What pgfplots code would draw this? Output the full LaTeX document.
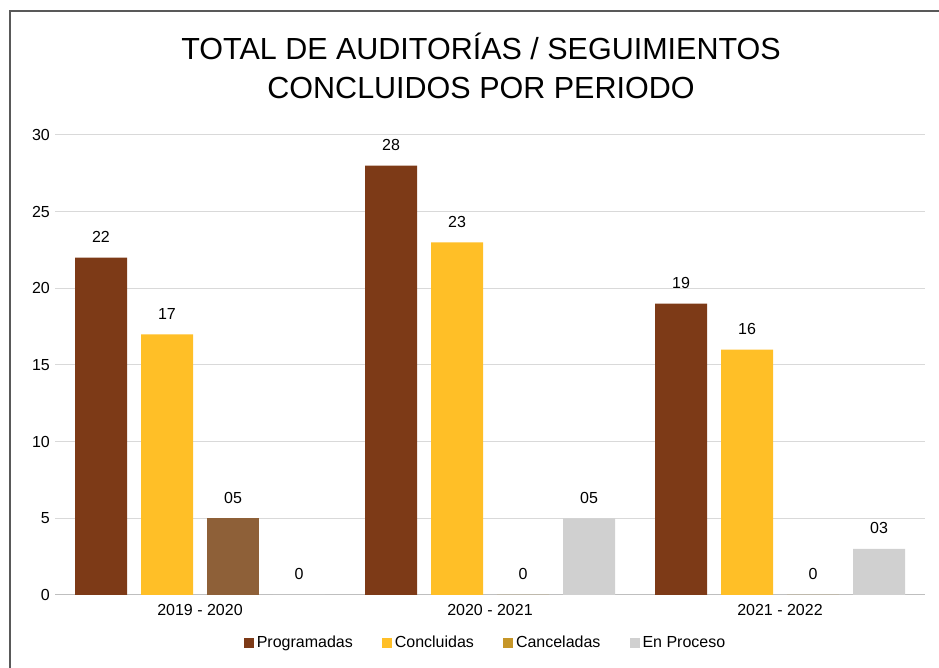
\documentclass[border=0pt]{standalone}
\usepackage{fontspec}
\setmainfont{Liberation Sans}
\usepackage{pgfplots}
\pgfplotsset{compat=1.18}
\definecolor{prog}{HTML}{7D3A17}
\definecolor{conc}{HTML}{FFBF27}
\definecolor{canc}{HTML}{C69628}
\definecolor{cancbar}{HTML}{8E6038}
\definecolor{proc}{HTML}{D0D0D0}
\newcommand{\lbl}{\fontsize{16}{19}\selectfont}
\begin{document}
\begin{tikzpicture}
\path[use as bounding box] (0pt,0pt) rectangle (939pt,668pt);
\draw[color=black!65, line width=1.5pt] (10pt,0pt) -- (10pt,657pt) -- (939pt,657pt);
\node[anchor=base, inner sep=0pt, font=\fontsize{30.5}{37}\selectfont] at (481pt,608pt) {TOTAL DE AUDITORÍAS / SEGUIMIENTOS};
\node[anchor=base, inner sep=0pt, font=\fontsize{30.5}{37}\selectfont] at (481pt,569pt) {CONCLUIDOS POR PERIODO};
\begin{axis}[
  at={(55pt,73pt)}, anchor=south west,
  scale only axis, width=870pt, height=460pt,
  xmin=-0.5, xmax=2.5, ymin=0, ymax=30,
  ybar, bar width=52pt,
  axis x line*=bottom, axis y line*=left,
  x axis line style={draw=black!25, line width=1pt, -},
  y axis line style={draw=none},
  major tick length=0pt,
  xtick={0,1,2},
  xticklabels={2019 - 2020, 2020 - 2021, 2021 - 2022},
  ytick={0,5,...,30},
  ymajorgrids,
  grid style={draw=black!15, line width=1pt},
  /pgf/number format/assume math mode=true,
  tick label style={font=\lbl},
  xticklabel style={anchor=north, inner sep=0pt, yshift=-9pt},
  yticklabel style={anchor=east, inner sep=0pt, xshift=-5pt},
  point meta=explicit symbolic,
  nodes near coords,
  every node near coord/.append style={font=\lbl, anchor=base, inner sep=0pt, yshift=15pt, color=black},
  clip=false,
  legend columns=-1,
  legend style={draw=none, fill=none, font=\lbl, at={(0.4954,-0.1065)}, anchor=center,
    /tikz/every even column/.append style={column sep=26pt},
    nodes={inner xsep=3pt, inner ysep=0pt, text height=11.5pt, text depth=3.5pt}},
  legend image code/.code={\fill[#1] (0pt,-4.5pt) rectangle (10pt,5.5pt);},
]
\addplot[fill=prog, draw=none, bar shift=-99pt] coordinates {(0,22)[22] (1,28)[28] (2,19)[19]};
\addlegendentry{Programadas}
\addplot[fill=conc, draw=none, bar shift=-33pt] coordinates {(0,17)[17] (1,23)[23] (2,16)[16]};
\addlegendentry{Concluidas}
\addplot[fill=canc, draw=none, bar shift=33pt] coordinates {(1,0)[0] (2,0)[0]};
\addlegendentry{Canceladas}
\addplot[fill=proc, draw=none, bar shift=99pt] coordinates {(0,0)[0] (1,5)[05] (2,3)[03]};
\addlegendentry{En Proceso}
\addplot[fill=cancbar, draw=none, bar shift=33pt, forget plot] coordinates {(0,5)[05]};
\end{axis}
\end{tikzpicture}
\end{document}
